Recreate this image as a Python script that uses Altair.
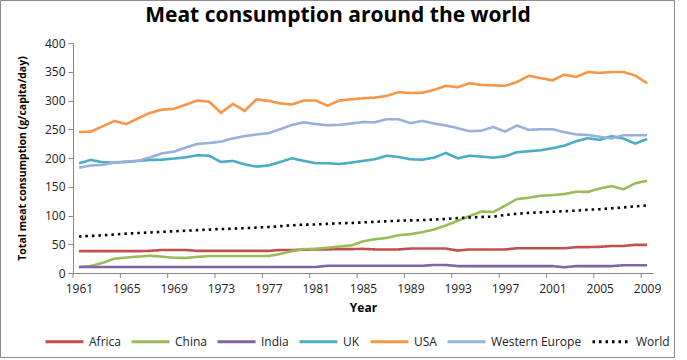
import altair as alt
import pandas as pd

# Per-capita meat consumption (g/capita/day), 1961-2009
years = list(range(1961, 2010))

africa = [38, 38, 38, 38, 38, 38, 38.5, 40, 40, 40,
          38.5, 38.5, 38.5, 38.5, 38.5, 38.5, 38.5, 40, 40, 40.5,
          41, 41, 41.5, 41.5, 42, 41, 41, 41, 42.5, 42.5,
          42.5, 42.5, 39, 41, 41, 41, 41, 43, 43, 43,
          43, 43, 45, 45, 45.5, 47, 47, 49, 49]
china = [10.5, 12, 17.5, 25, 26.8, 28.5, 30, 28.5, 26.5, 26.2,
         28, 29.5, 29.5, 29.5, 29.5, 29.5, 29.5, 33, 38, 41.5,
         42.2, 44, 46, 48, 55, 58.8, 61, 65.8, 67.5, 71,
         75.7, 82.7, 90.7, 99, 107, 106, 117, 128.5, 130.8, 134.3,
         135.5, 137.3, 141.3, 141, 147, 151, 145.5, 156, 160.5]
india = [10.5, 10.5, 10.5, 10.5, 10.5, 10.5, 10.5, 10.5, 10.5, 10.5,
         10.5, 10.5, 10.5, 10.5, 10.5, 10.5, 10.5, 10.5, 10.5, 10.5,
         10.5, 12.5, 12.5, 12.5, 12.5, 12.5, 12.5, 12.5, 12.5, 12.5,
         14, 14, 12, 12, 12, 12, 12, 12, 12, 12,
         12, 10, 12, 12, 12, 12, 13.5, 13.5, 13.5]
uk = [190.8, 196.6, 192.6, 192, 193, 195, 196.6, 197, 199, 201,
      204.7, 204, 193, 195, 189, 185, 187, 193, 199.5, 195,
      191, 191, 189.6, 192, 195, 197.8, 204, 201.8, 197.8, 197,
      200.6, 208.8, 199.5, 204, 202.4, 200.6, 203, 210, 211.7, 213.5,
      217, 221.5, 229, 234.4, 231.5, 238, 233.8, 225, 233]
usa = [245, 246, 255, 264.5, 259, 269, 278.5, 284, 285.5, 292.5,
       300, 298, 278.5, 294, 282, 302, 299.5, 295, 293, 300,
       300, 291, 300, 302, 304, 305, 308, 314.5, 313, 313.5,
       318.5, 325.5, 323, 330, 327, 326.5, 325.5, 332, 343, 339,
       335, 345, 341, 349.5, 348, 349.5, 349.5, 343.5, 330]
western_europe = [183, 187, 188, 192, 194, 195, 201, 208, 211, 218,
                  224.5, 226, 228.5, 234, 238, 241, 243, 250, 257.5, 262,
                  259, 257, 257.5, 260, 262.5, 262, 267.5, 267.5, 260.5, 264.5,
                  260, 256.5, 252, 246.5, 247.5, 254, 246, 256.5, 249, 250,
                  250, 245, 241, 240, 237, 234, 239.5, 239.5, 239.5]
world = [63.5, 64.5, 65.5, 67, 68.5, 69.5, 70.5, 71.5, 72.5, 73.5,
         74.5, 75.5, 76.5, 77, 78, 79, 80, 81.5, 83, 84,
         84.5, 85.5, 86.5, 87, 88, 89, 90, 91, 91.5, 92,
         93, 94, 95.5, 96.5, 97.5, 98, 101, 103, 104.5, 105.5,
         106.5, 107.5, 108.5, 110, 111, 112.5, 114, 116, 117.5]

regions = ["Africa", "China", "India", "UK", "USA", "Western Europe", "World"]
series = [africa, china, india, uk, usa, western_europe, world]
colors = ["#C0504D", "#9BBB59", "#8064A2", "#4BACC6", "#F79646", "#98B0DC", "#000000"]
dashes = [[1, 0], [1, 0], [1, 0], [1, 0], [1, 0], [1, 0], [2.5, 4]]

# Year labels every fourth year; tick marks sit on the category boundaries
label_years = [1961, 1965, 1969, 1973, 1977, 1981, 1985, 1989, 1993, 1997, 2001, 2005, 2009]
tick_positions = [1960.5, 1964.5, 1968.5, 1972.5, 1976.5, 1980.5, 1984.5,
                  1988.5, 1992.5, 1996.5, 2000.5, 2004.5, 2008.5]
y_ticks = [0, 50, 100, 150, 200, 250, 300, 350, 400]
chart_title = "Meat consumption around the world"

rows = []
for name, vals in zip(regions, series):
    for yr, v in zip(years, vals):
        rows.append({"year": yr, "region": name, "value": v})
df = pd.DataFrame(rows)

FONT = "Open Sans"
AXIS_GRAY = "#868686"
W, H = 580, 230

x_scale = alt.Scale(domain=[1960.5, 2009.5], nice=False, zero=False)
x_axis = alt.Axis(values=label_years, format="d", ticks=False, grid=False,
                  labelPadding=10, labelOverlap=False, labelFlush=False,
                  title="Year", titlePadding=8)

legend = alt.Legend(orient="none", legendX=-29, legendY=278, direction="horizontal",
                    title=None, symbolType="stroke", symbolSize=1444,
                    symbolStrokeWidth=3, labelFont=FONT, labelFontSize=12,
                    labelColor="#222222", labelOffset=4, columnPadding=4,
                    padding=0)

lines = alt.Chart(df).mark_line(strokeWidth=2.6).encode(
    x=alt.X("year:Q", scale=x_scale, axis=x_axis),
    y=alt.Y("value:Q",
            scale=alt.Scale(domain=[0, 400], nice=False),
            axis=alt.Axis(values=y_ticks, grid=False, tickSize=5, labelPadding=3,
                          title="Total meat consumption  (g/capita/day)",
                          titleFontSize=10.5,
                          titleX=-51, titleY=H / 2, titleAngle=-90,
                          titleAlign="center", titleBaseline="middle")),
    color=alt.Color("region:N", scale=alt.Scale(domain=regions, range=colors), legend=legend),
    strokeDash=alt.StrokeDash("region:N", scale=alt.Scale(domain=regions, range=dashes),
                              legend=legend),
    order=alt.Order("year:Q"),
)

ticks = alt.Chart(pd.DataFrame({"year": tick_positions})).mark_rule(
    color=AXIS_GRAY, strokeWidth=1
).encode(
    x=alt.X("year:Q", scale=x_scale, axis=x_axis),
    y=alt.value(H),
    y2=alt.value(H + 5),
)

# Outer border around the whole chart
frame = alt.Chart(pd.DataFrame({"k": [0]})).mark_rect(
    fill=None, stroke="#8C8C8C", strokeWidth=1
).encode(
    x=alt.value(-72.5), x2=alt.value(601.5), y=alt.value(-42.5), y2=alt.value(314.5)
)

# Chart heading, centred on the outer border
heading = alt.Chart(pd.DataFrame({"t": [chart_title]})).mark_text(
    font=FONT, fontSize=21, fontWeight="bold", color="#000000",
    align="center", baseline="alphabetic"
).encode(
    text="t:N", x=alt.value(265), y=alt.value(-21)
)

chart = alt.layer(frame, lines, ticks, heading).properties(
    width=W, height=H,
    padding={"left": 73, "top": 43, "right": 34, "bottom": 87},
    autosize=alt.AutoSizeParams(type="none"),
).configure_view(stroke=None).configure_axis(
    domainColor=AXIS_GRAY, tickColor=AXIS_GRAY, labelFont=FONT, labelFontSize=12,
    labelColor="#222222", titleFont=FONT, titleFontSize=12, titleFontWeight="bold",
    titleColor="#000000",
)

chart.save("out.html", embed_options={"renderer": "svg", "actions": False})
